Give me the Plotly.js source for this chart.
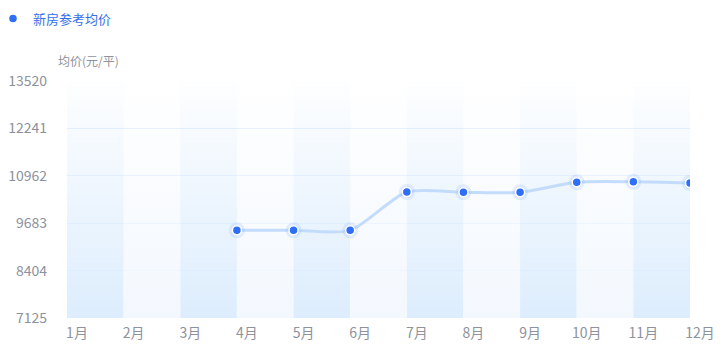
<!DOCTYPE html>
<html>
<head>
<meta charset="utf-8">
<script src="https://cdn.plot.ly/plotly-3.0.1.min.js"></script>
<style>
html,body{margin:0;padding:0;background:#fff;}
#chart{width:724px;height:362px;}
</style>
</head>
<body>
<div id="chart"></div>
<script>
const months = ['1月','2月','3月','4月','5月','6月','7月','8月','9月','10月','11月','12月'];
const prices = [null, null, null, 9490, 9490, 9490, 10525, 10520, 10515, 10787, 10800, 10768];
const yTicks = [7125, 8404, 9683, 10962, 12241, 13520];
const seriesName = '新房参考均价';
const yTitle = '均价(元/平)';

const FONT = '"Microsoft YaHei","Noto Sans CJK SC","Noto Sans",sans-serif';
const yMin = yTicks[0], yMax = yTicks[yTicks.length - 1];

const traces = [];
// alternating split-area bands with vertical gradient
for (let i = 0; i < months.length - 1; i++) {
  const dark = i % 2 === 0;
  const base = dark ? '221,237,253' : '243,248,254';
  traces.push({
    type: 'scatter', mode: 'none', hoverinfo: 'skip', showlegend: false,
    x: [months[i], months[i+1], months[i+1], months[i], months[i]],
    y: [yMin, yMin, yMax, yMax, yMin],
    fill: 'toself',
    fillgradient: {type: 'vertical', colorscale: [[0, 'rgba(' + base + ',1)'], [1, 'rgba(' + base + ',0.05)']]}
  });
}
// smooth line
traces.push({
  type: 'scatter', mode: 'lines', x: months, y: prices, showlegend: false,
  line: {shape: 'spline', smoothing: 0.7, color: '#c4dcfc', width: 3}, hoverinfo: 'skip'
});
// glow
traces.push({
  type: 'scatter', mode: 'markers', x: months, y: prices, showlegend: false, hoverinfo: 'skip',
  marker: {size: 16, color: 'rgba(120,170,255,0.18)', line: {width: 0}}
});
// points
traces.push({
  type: 'scatter', mode: 'markers', x: months, y: prices, name: seriesName,
  marker: {size: 9, color: '#2f6ef6', line: {color: '#ffffff', width: 1.5}}
});

const layout = {
  width: 724, height: 362,
  margin: {l: 67, r: 34, t: 81, b: 44, autoexpand: false},
  paper_bgcolor: '#ffffff', plot_bgcolor: '#ffffff',
  font: {family: FONT, size: 13, color: '#8e929c'},
  showlegend: true,
  legend: {
    xref: 'container', yref: 'container', x: 0, y: 0.99, xanchor: 'left', yanchor: 'top',
    indentation: -7,
    font: {family: FONT, size: 13, color: '#3470e8'}, bgcolor: 'rgba(0,0,0,0)'
  },
  xaxis: {
    type: 'category', categoryorder: 'array', categoryarray: months,
    range: [0, months.length - 1], showgrid: false, zeroline: false, showline: false,
    ticks: '', ticklabelshift: 10, ticklabelstandoff: 5,
    tickfont: {family: FONT, size: 14, color: '#8e929c'}, fixedrange: true
  },
  yaxis: {
    range: [yMin, yMax], tickmode: 'array', tickvals: yTicks, ticktext: yTicks.map(String),
    showgrid: true, gridcolor: 'rgba(214,232,252,0.7)', gridwidth: 1, zeroline: false, showline: false,
    ticks: '', ticklabelstandoff: 19,
    tickfont: {family: FONT, size: 14, color: '#8e929c'}, fixedrange: true
  },
  annotations: [{
    xref: 'paper', yref: 'paper', x: 0, y: 1, xanchor: 'left', yanchor: 'middle',
    xshift: -11, yshift: 21, showarrow: false, text: yTitle,
    font: {family: FONT, size: 12, color: '#8e929c'}
  }]
};

Plotly.newPlot('chart', traces, layout, {displayModeBar: false, staticPlot: true});
</script>
</body>
</html>
